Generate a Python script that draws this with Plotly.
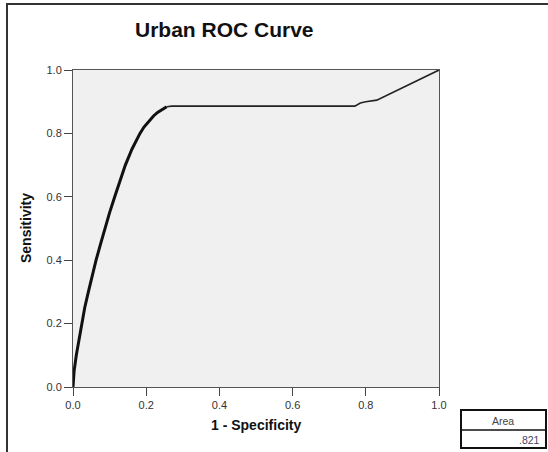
import plotly.graph_objects as go

# ROC curve data (1 - specificity, sensitivity)
fpr_steep = [0.0, 0.003, 0.009, 0.016, 0.023, 0.032, 0.042, 0.052, 0.063, 0.075, 0.087,
             0.1, 0.114, 0.128, 0.143, 0.161, 0.172, 0.183, 0.194, 0.205, 0.22, 0.231, 0.241, 0.249, 0.256]
tpr_steep = [0.0, 0.05, 0.1, 0.15, 0.2, 0.25, 0.3, 0.35, 0.4, 0.45, 0.5,
             0.55, 0.6, 0.65, 0.7, 0.75, 0.777, 0.8, 0.82, 0.835, 0.855, 0.866, 0.874, 0.879, 0.884]
fpr_rest = [0.256, 0.27, 0.77, 0.785, 0.8, 0.83, 1.0]
tpr_rest = [0.884, 0.886, 0.886, 0.896, 0.9, 0.905, 1.0]

tick_vals = [0.0, 0.2, 0.4, 0.6, 0.8, 1.0]
tick_text = ["0.0", "0.2", "0.4", "0.6", "0.8", "1.0"]
title_text = "Urban ROC Curve"
x_title = "1 - Specificity"
y_title = "Sensitivity"
area_header = "Area"
area_value = ".821"

W, H = 548, 452
L, R, T, B = 73, 439, 70, 387  # plot area in pixels


def px(x):
    return (x - L) / (R - L)


def py(y):
    return (B - y) / (B - T)


FONT = "Liberation Sans, Arial, sans-serif"

fig = go.Figure()
fig.add_trace(go.Scatter(x=fpr_steep, y=tpr_steep, mode="lines",
                         line=dict(color="#111111", width=3), hoverinfo="skip"))
fig.add_trace(go.Scatter(x=fpr_rest, y=tpr_rest, mode="lines",
                         line=dict(color="#222222", width=1.6), hoverinfo="skip"))

axis_common = dict(range=[0, 1], tickvals=tick_vals, ticktext=tick_text,
                   ticks="outside", ticklen=8, tickcolor="#444444", tickwidth=1,
                   showline=True, linecolor="#555555", linewidth=1, mirror=True,
                   showgrid=False, zeroline=False,
                   tickfont=dict(family=FONT, size=11, color="#333333"))

fig.update_layout(
    width=W, height=H,
    margin=dict(l=L, r=W - R, t=T, b=H - B, pad=0),
    paper_bgcolor="white", plot_bgcolor="#f0f0f0",
    showlegend=False,
    xaxis=dict(**axis_common),
    yaxis=dict(**axis_common),
)

shapes = []
# outer frame (left and top)
shapes.append(dict(type="line", xref="paper", yref="paper",
                   x0=px(7), x1=px(7), y0=py(4), y1=py(H + 2),
                   line=dict(color="#333333", width=2)))
shapes.append(dict(type="line", xref="paper", yref="paper",
                   x0=px(6), x1=px(W + 2), y0=py(4), y1=py(4),
                   line=dict(color="#333333", width=2)))
# area box
shapes.append(dict(type="rect", xref="paper", yref="paper",
                   x0=px(461), x1=px(546), y0=py(410), y1=py(448),
                   line=dict(color="#111111", width=2), fillcolor="white"))
shapes.append(dict(type="line", xref="paper", yref="paper",
                   x0=px(461), x1=px(546), y0=py(430), y1=py(430),
                   line=dict(color="#111111", width=1.5)))
fig.update_layout(shapes=shapes)

annotations = [
    dict(text="<b>%s</b>" % title_text, x=px(224), y=py(30), xref="paper", yref="paper",
         showarrow=False, xanchor="center", yanchor="middle",
         font=dict(family=FONT, size=21, color="#111111")),
    dict(text="<b>%s</b>" % x_title, x=px(256), y=py(425), xref="paper", yref="paper",
         showarrow=False, xanchor="center", yanchor="middle",
         font=dict(family=FONT, size=14, color="#111111")),
    dict(text="<b>%s</b>" % y_title, x=px(26), y=py(228), xref="paper", yref="paper",
         showarrow=False, xanchor="center", yanchor="middle", textangle=-90,
         font=dict(family=FONT, size=14, color="#111111")),
    dict(text=area_header, x=px(503), y=py(420.5), xref="paper", yref="paper",
         showarrow=False, xanchor="center", yanchor="middle",
         font=dict(family=FONT, size=10.5, color="#444444")),
    dict(text=area_value, x=px(542), y=py(439.5), xref="paper", yref="paper",
         showarrow=False, xanchor="right", yanchor="middle",
         font=dict(family=FONT, size=10.5, color="#444466")),
]
fig.update_layout(annotations=annotations)

fig.write_html("out.html")
